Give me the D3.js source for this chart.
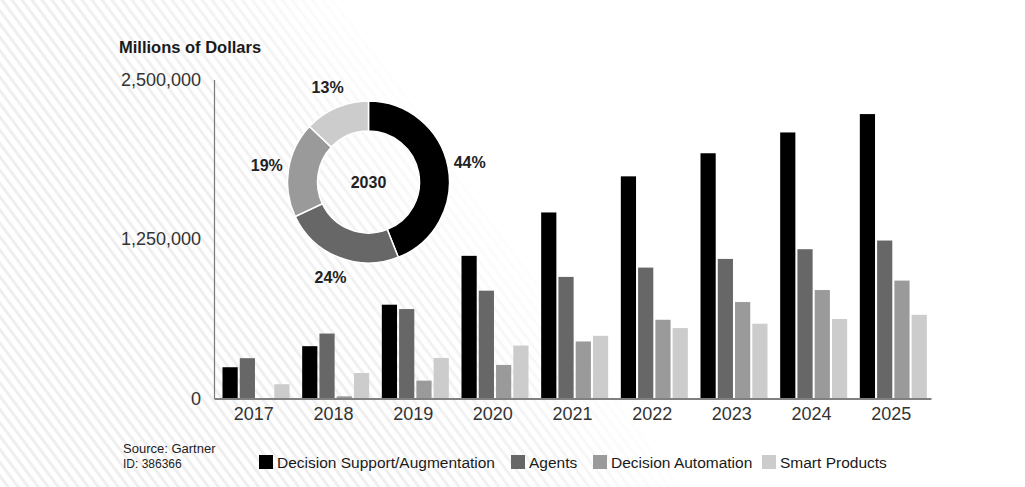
<!DOCTYPE html>
<html>
<head>
<meta charset="utf-8">
<script src="https://cdn.jsdelivr.net/npm/d3@7"></script>
<style>
  html, body { margin: 0; padding: 0; background: #fff; }
  svg { display: block; font-family: "Liberation Sans", Arial, sans-serif; }
</style>
</head>
<body>
<svg id="chart" width="1025" height="487"></svg>
<script>
// ---------------- data ----------------
const years = ["2017", "2018", "2019", "2020", "2021", "2022", "2023", "2024", "2025"];
const seriesNames = ["Decision Support/Augmentation", "Agents", "Decision Automation", "Smart Products"];
const decisionSupport    = [245000, 410000, 735000, 1118000, 1458000, 1741000, 1922000, 2085000, 2229000];
const agents             = [316000, 509000, 701000, 845000, 953000, 1026000, 1094000, 1170000, 1238000];
const decisionAutomation = [0, 17000, 140000, 263000, 447000, 617000, 756000, 850000, 924000];
const smartProducts      = [112000, 200000, 318000, 415000, 491000, 552000, 586000, 623000, 656000];
const yTicks = [0, 1250000, 2500000];
const donutYear = "2030";
const donutShares = [44, 24, 19, 13];
const yTitle = "Millions of Dollars";
const sourceText = "Source: Gartner";
const idText = "ID: 386366";

const seriesValues = [decisionSupport, agents, decisionAutomation, smartProducts];
const colors = ["#000000", "#676767", "#9a9a9a", "#cccccc"];

// ---------------- setup ----------------
const svg = d3.select("#chart");
const W = 1025, H = 487;

// background stripes
const defs = svg.append("defs");
const pat = defs.append("pattern")
  .attr("id", "stripes")
  .attr("patternUnits", "userSpaceOnUse")
  .attr("width", 8).attr("height", 8)
  .attr("patternTransform", "rotate(-37)");
pat.append("rect").attr("width", 8).attr("height", 8).attr("fill", "#ffffff");
pat.append("rect").attr("x", 0).attr("width", 3).attr("height", 8).attr("fill", "#efefef");

const grad = defs.append("linearGradient")
  .attr("id", "fade")
  .attr("gradientUnits", "userSpaceOnUse")
  .attr("x1", 330).attr("y1", 380)
  .attr("x2", 525).attr("y2", 243);
grad.append("stop").attr("offset", 0).attr("stop-color", "#fff");
grad.append("stop").attr("offset", 0.55).attr("stop-color", "#bbb");
grad.append("stop").attr("offset", 1).attr("stop-color", "#000");
defs.append("mask").attr("id", "fadeMask")
  .append("rect").attr("width", W).attr("height", H).attr("fill", "url(#fade)");

svg.append("rect").attr("width", W).attr("height", H).attr("fill", "#fff");
svg.append("rect").attr("width", W).attr("height", H)
  .attr("fill", "url(#stripes)").attr("mask", "url(#fadeMask)");

// ---------------- scales ----------------
const x0 = d3.scaleBand().domain(years).range([214, 931]).padding(0);
const x1 = d3.scaleBand().domain(seriesNames).range([0, 67]).paddingInner(0.12);
const groupOffset = 8.5;
const y = d3.scaleLinear().domain([0, 2500000]).range([398.5, 79.5]);

// ---------------- bars ----------------
const groups = svg.append("g").selectAll("g")
  .data(years)
  .join("g")
  .attr("transform", d => `translate(${x0(d) + groupOffset},0)`);

groups.selectAll("rect")
  .data((yr, i) => seriesNames.map((s, k) => ({ s, k, v: seriesValues[k][i] })))
  .join("rect")
  .attr("x", d => x1(d.s))
  .attr("width", x1.bandwidth())
  .attr("y", d => y(d.v))
  .attr("height", d => y(0) - y(d.v))
  .attr("fill", d => colors[d.k]);

// ---------------- axes ----------------
const yAxis = d3.axisLeft(y).tickValues(yTicks).tickFormat(d3.format(",")).tickSize(0).tickPadding(13);
const gy = svg.append("g").attr("transform", "translate(214,0)").call(yAxis);
gy.select(".domain").attr("stroke", "#7a7a7a").attr("stroke-width", 1.2);
gy.selectAll("text").attr("font-size", 18).attr("fill", "#333").attr("font-family", "Liberation Sans, Arial, sans-serif");

const xAxis = d3.axisBottom(x0).tickSize(0).tickPadding(9);
const gx = svg.append("g").attr("transform", "translate(0,398.5)").call(xAxis);
gx.select(".domain").attr("stroke", "#808080").attr("stroke-width", 2);
gx.selectAll("text").attr("font-size", 18).attr("fill", "#333").attr("font-family", "Liberation Sans, Arial, sans-serif");

// title
svg.append("text").attr("x", 119).attr("y", 53)
  .attr("font-size", 16.5).attr("font-weight", "bold").attr("fill", "#1a1a1a")
  .text(yTitle);

// ---------------- donut ----------------
const cx = 368.5, cy = 182;
const pie = d3.pie().sort(null).value(d => d);
const arc = d3.arc().innerRadius(51).outerRadius(81);
const labelArc = d3.arc().innerRadius(103).outerRadius(103);
const dg = svg.append("g").attr("transform", `translate(${cx},${cy})`);
const arcs = pie(donutShares);
dg.selectAll("path").data(arcs).join("path")
  .attr("d", arc)
  .attr("fill", (d, i) => colors[i])
  .attr("stroke", "#fff").attr("stroke-width", 1.5);
dg.selectAll("text.pct").data(arcs).join("text")
  .attr("class", "pct")
  .attr("transform", d => `translate(${labelArc.centroid(d)})`)
  .attr("text-anchor", "middle").attr("dy", "0.35em")
  .attr("font-size", 16).attr("font-weight", "bold").attr("fill", "#222")
  .text(d => d.data + "%");
dg.append("text").attr("text-anchor", "middle").attr("dy", "0.35em")
  .attr("font-size", 16).attr("font-weight", "bold").attr("fill", "#222")
  .text(donutYear);

// ---------------- legend ----------------
const legendX = [259, 511, 593, 762];
const lg = svg.append("g");
seriesNames.forEach((s, i) => {
  lg.append("rect").attr("x", legendX[i]).attr("y", 455).attr("width", 14).attr("height", 14).attr("fill", colors[i]);
  lg.append("text").attr("x", legendX[i] + 18).attr("y", 468)
    .attr("font-size", 15.5).attr("fill", "#1a1a1a").text(s);
});

// source
svg.append("text").attr("x", 123).attr("y", 453).attr("font-size", 13).attr("fill", "#222").text(sourceText);
svg.append("text").attr("x", 123).attr("y", 468).attr("font-size", 12).attr("fill", "#222").text(idText);
</script>
</body>
</html>
